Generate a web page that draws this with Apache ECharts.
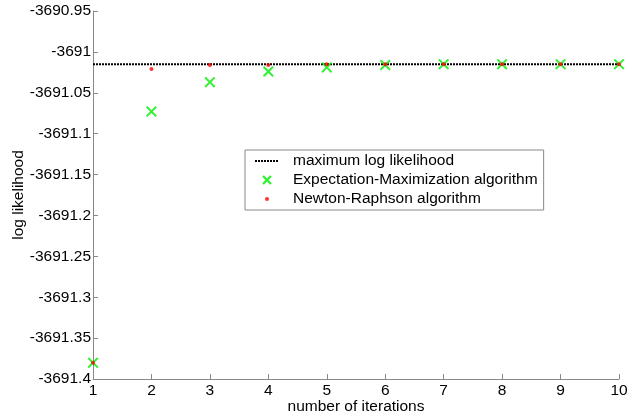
<!DOCTYPE html>
<html>
<head>
<meta charset="utf-8">
<script src="https://cdn.jsdelivr.net/npm/echarts@6/dist/echarts.min.js"></script>
<style>
  html, body { margin: 0; padding: 0; background: #fff; }
  #main { width: 628px; height: 418px; }
</style>
</head>
<body>
<div id="main"></div>
<script>
// data
var iterations = [1, 2, 3, 4, 5, 6, 7, 8, 9, 10];
var maxLogLik = -3691.015;
var emValues = [-3691.380, -3691.073, -3691.037, -3691.024, -3691.019, -3691.016, -3691.015, -3691.015, -3691.015, -3691.015];
var nrValues = [-3691.380, -3691.021, -3691.016, -3691.016, -3691.015, -3691.015, -3691.015, -3691.015, -3691.015, -3691.015];

var font = 'Liberation Sans, Arial, sans-serif';
var fs = 15.5;
var crossPath = 'path://M0,1.3L1.3,0L5,3.7L8.7,0L10,1.3L6.3,5L10,8.7L8.7,10L5,6.3L1.3,10L0,8.7L3.7,5Z';

function pairs(vals) {
  return iterations.map(function (x, i) { return [x, vals[i]]; });
}

// legend icons as small svg images (24x14 box)
function svgIcon(body) {
  return 'image://data:image/svg+xml;charset=utf-8,' + encodeURIComponent(
    '<svg xmlns="http://www.w3.org/2000/svg" width="24" height="14" viewBox="0 0 24 14">' + body + '</svg>');
}
var lineIcon = svgIcon('<line x1="0" y1="7" x2="24" y2="7" stroke="#000" stroke-width="2" stroke-dasharray="2,1"/>');
var crossIcon = svgIcon('<path d="M8,3L16,11M16,3L8,11" stroke="#00ee00" stroke-width="2.4"/>');
var dotIcon = svgIcon('<circle cx="12" cy="7" r="2" fill="#ff0000"/>');

var myChart = echarts.init(document.getElementById('main'));
var option = {
  animation: false,
  backgroundColor: '#fff',
  textStyle: { fontFamily: font },
  grid: { left: 93, right: 9, top: 11, bottom: 39, containLabel: false, outerBoundsMode: 'none' },
  xAxis: {
    type: 'value',
    min: 1, max: 10, interval: 1,
    name: 'number of iterations',
    nameLocation: 'middle',
    nameGap: 20,
    nameMoveOverlap: false,
    nameTextStyle: { color: '#000', fontSize: fs, fontFamily: font },
    axisLine: { lineStyle: { color: '#888', width: 1 } },
    axisTick: { inside: true, length: 5, lineStyle: { color: '#888' } },
    axisLabel: { color: '#000', fontSize: fs, fontFamily: font, margin: 4 },
    splitLine: { show: false }
  },
  yAxis: {
    type: 'value',
    min: -3691.4, max: -3690.95, interval: 0.05,
    name: 'log likelihood',
    nameLocation: 'middle',
    nameGap: 66,
    nameMoveOverlap: false,
    nameTextStyle: { color: '#000', fontSize: fs, fontFamily: font },
    axisLine: { show: true, lineStyle: { color: '#888', width: 1 } },
    axisTick: { show: true, inside: true, length: 5, lineStyle: { color: '#888' } },
    axisLabel: {
      color: '#000', fontSize: fs, fontFamily: font, margin: 2,
      formatter: function (v) { return String(+v.toFixed(2)); }
    },
    splitLine: { show: false }
  },
  legend: {
    orient: 'vertical',
    left: 245, top: 150,
    padding: [3, 6, 3, 10],
    itemGap: 3,
    itemWidth: 24,
    itemHeight: 14,
    backgroundColor: '#fff',
    borderColor: '#888',
    borderWidth: 1,
    borderRadius: 0,
    textStyle: { color: '#000', fontSize: fs, fontFamily: font, padding: [0, 0, 0, 9] },
    data: [
      { name: 'maximum log likelihood', icon: lineIcon },
      { name: 'Expectation-Maximization algorithm', icon: crossIcon },
      { name: 'Newton-Raphson algorithm', icon: dotIcon }
    ]
  },
  series: [
    {
      name: 'maximum log likelihood',
      type: 'line',
      symbol: 'none',
      data: iterations.map(function (x) { return [x, maxLogLik]; }),
      lineStyle: { color: '#000', width: 2, type: [2, 1] },
      itemStyle: { color: '#000' },
      z: 1
    },
    {
      name: 'Expectation-Maximization algorithm',
      type: 'scatter',
      symbol: crossPath,
      symbolSize: 11,
      data: pairs(emValues),
      itemStyle: { color: '#00ee00' },
      z: 2
    },
    {
      name: 'Newton-Raphson algorithm',
      type: 'scatter',
      symbol: 'circle',
      symbolSize: 4,
      data: pairs(nrValues),
      itemStyle: { color: '#ff0000' },
      z: 3
    }
  ]
};
myChart.setOption(option);
</script>
</body>
</html>
